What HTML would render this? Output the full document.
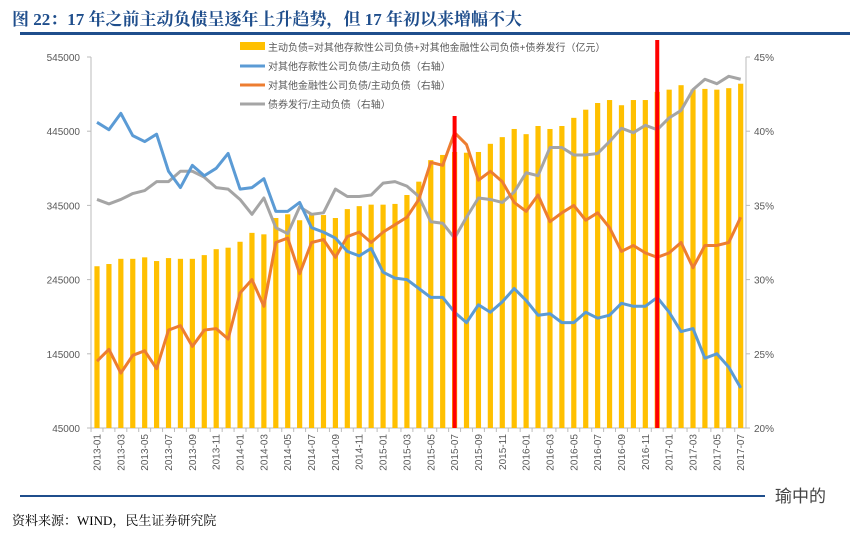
<!DOCTYPE html>
<html><head><meta charset="utf-8">
<style>
body{margin:0;background:#fff;width:865px;height:534px;overflow:hidden;position:relative;font-family:"Liberation Serif","Noto Serif CJK SC",serif;}
#title{position:absolute;left:12px;top:5px;font-size:17px;font-weight:bold;color:#1f4e8c;white-space:nowrap;}
#rule1{position:absolute;left:20px;top:32px;width:830px;height:3px;background:#1f4e8c;}
#rule2{position:absolute;left:20px;top:495px;width:745px;height:2px;background:#1f4e8c;}
#src{position:absolute;left:12px;top:510px;font-size:13px;color:#000;}
#wm{position:absolute;left:775px;top:482px;font-size:17px;color:#444;font-family:"Noto Sans CJK SC",sans-serif;}
svg{position:absolute;left:0;top:0;}
</style></head><body>
<div id="title">图 22：17 年之前主动负债呈逐年上升趋势，但 17 年初以来增幅不大</div>
<div id="rule1"></div>
<svg id="chart" width="865" height="534"></svg>
<div id="rule2"></div>
<div id="wm">瑜中的</div>
<div id="src">资料来源：WIND，民生证券研究院</div>
<script>
const months = [];
for (let y = 2013; y <= 2017; y++) for (let m = 1; m <= 12; m++) { if (y === 2017 && m > 7) break; months.push(y + '-' + (m < 10 ? '0' + m : m)); }
const activeLiab = [263000,266000,273000,273000,275000,270000,274000,273000,273000,278000,286000,288000,296000,308000,306000,328000,333000,325000,333000,332000,328000,340000,344000,346000,346000,347000,359000,377000,406000,413000,417000,416000,417000,428000,437000,448000,441000,452000,448000,452000,463000,474000,483000,487000,480000,487000,487000,498000,501000,507000,501000,502000,501000,503000,509000];
const depositRatio = [40.6,40.1,41.2,39.7,39.3,39.8,37.3,36.2,37.7,37.0,37.5,38.5,36.1,36.2,36.8,34.6,34.6,35.2,33.5,33.2,32.8,31.9,31.6,32.1,30.5,30.1,30.0,29.4,28.8,28.8,27.8,27.1,28.3,27.8,28.5,29.4,28.6,27.6,27.7,27.1,27.1,27.8,27.4,27.6,28.4,28.2,28.2,28.8,27.8,26.5,26.7,24.7,25.0,24.1,22.7];
const finRatio = [24.5,25.3,23.7,24.9,25.2,24.0,26.6,26.9,25.5,26.6,26.7,26.0,29.1,30.0,28.2,32.5,32.8,30.4,32.5,32.7,31.5,32.9,33.2,32.5,33.2,33.7,34.2,35.4,37.9,37.7,39.9,39.1,36.7,37.3,36.6,35.2,34.6,35.7,33.9,34.5,35.0,34.0,34.5,33.5,31.9,32.3,31.8,31.5,31.8,32.5,30.8,32.3,32.3,32.5,34.2];
const bondRatio = [35.4,35.1,35.4,35.8,36.0,36.6,36.6,37.3,37.3,36.9,36.2,36.1,35.4,34.4,35.5,33.5,33.1,34.9,34.4,34.5,36.1,35.6,35.6,35.7,36.5,36.6,36.3,35.6,33.9,33.8,32.8,34.2,35.5,35.4,35.2,35.9,37.2,37.0,38.9,38.9,38.4,38.4,38.5,39.3,40.2,39.9,40.4,40.1,40.9,41.4,42.8,43.5,43.2,43.7,43.5];
const leftTicks = [45000,145000,245000,345000,445000,545000];
const rightTicks = [20,25,30,35,40,45];
const markerIdx = [30, 47];
const legendLabels = ['主动负债=对其他存款性公司负债+对其他金融性公司负债+债券发行（亿元）','对其他存款性公司负债/主动负债（右轴）','对其他金融性公司负债/主动负债（右轴）','债券发行/主动负债（右轴）'];

const NS='http://www.w3.org/2000/svg';
const svg=document.getElementById('chart');
const X0=97, DX=11.92, TOP=57, BOT=428;
const xs=i=>X0+i*DX;
const yL=v=>BOT-(v-45000)/500000*(BOT-TOP);
const yR=v=>BOT-(v-20)/25*(BOT-TOP);
function el(t,a,p){const e=document.createElementNS(NS,t);for(const k in a)e.setAttribute(k,a[k]);(p||svg).appendChild(e);return e;}
const F='"Liberation Sans","Noto Sans CJK SC",sans-serif';

const ax=el('line',{x1:91,y1:TOP,x2:91,y2:BOT,stroke:'#bbb','stroke-width':1});

const ax2=el('line',{x1:746,y1:TOP,x2:746,y2:BOT,stroke:'#bbb','stroke-width':1});

const ax3=el('line',{x1:91,y1:BOT,x2:746,y2:BOT,stroke:'#bbb','stroke-width':1});

leftTicks.forEach(v=>{
  el('line',{x1:87,y1:yL(v),x2:91,y2:yL(v),stroke:'#bbb'});
  const t=el('text',{x:80,y:yL(v)+4,'text-anchor':'end','font-size':10,fill:'#595959','font-family':F});t.textContent=v;
  
});
rightTicks.forEach(v=>{
  el('line',{x1:746,y1:yR(v),x2:750,y2:yR(v),stroke:'#bbb'});
  const t=el('text',{x:754,y:yR(v)+4,'font-size':10,fill:'#595959','font-family':F});t.textContent=v+'%';
  
});
months.forEach((m,i)=>{
  const x=xs(i);
  el('line',{x1:x-DX/2,y1:BOT,x2:x-DX/2,y2:BOT+4,stroke:'#bbb'});
  if(i%2===0){
    const t=el('text',{x:0,y:0,'font-size':10,fill:'#595959','font-family':F,'text-anchor':'end',transform:`translate(${x+3.5},${BOT+6}) rotate(-90)`});t.textContent=m;
    
  }
});
activeLiab.forEach((v,i)=>{
  const b=el('rect',{x:xs(i)-2.6,y:yL(v),width:5.2,height:BOT-yL(v),fill:'#ffc000'});
  
});
function line(data,color,name){
  const p=el('polyline',{points:data.map((v,i)=>xs(i)+','+yR(v)).join(' '),fill:'none',stroke:color,'stroke-width':3,'stroke-linejoin':'round'});
  
}
line(bondRatio,'#a5a5a5','bond-ratio-line');
line(finRatio,'#ed7d31','financial-ratio-line');
line(depositRatio,'#5b9bd5','deposit-ratio-line');
const mk1=el('rect',{x:xs(markerIdx[0])-2,y:116,width:4,height:BOT-116,fill:'#ff0000'});

const mk2=el('rect',{x:xs(markerIdx[1])-2,y:40,width:4,height:BOT-40,fill:'#ff0000'});

const lc=['#ffc000','#5b9bd5','#ed7d31','#a5a5a5'];
legendLabels.forEach((s,i)=>{
  const y=47+i*19;
  if(i===0) el('rect',{x:240,y:y-5,width:25,height:8,fill:lc[i]});
  else el('line',{x1:240,y1:y,x2:265,y2:y,stroke:lc[i],'stroke-width':3});
  const t=el('text',{x:268,y:y+4,'font-size':10,fill:'#595959','font-family':F});t.textContent=s;
  
});
</script>
</body></html>
